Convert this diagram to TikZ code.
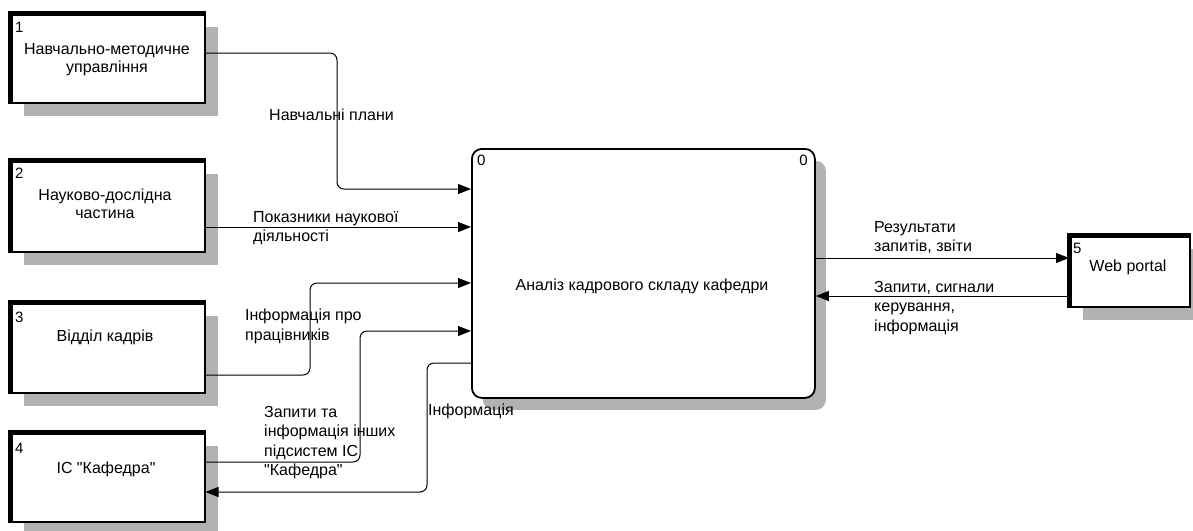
\documentclass[tikz,border=0pt]{standalone}
\usepackage{fontspec}
\setmainfont{Liberation Sans}[Ligatures=TeXOff]
\usetikzlibrary{shadows,arrows.meta}
\begin{document}
\begin{tikzpicture}[x=1pt,y=-1pt,
  ext/.style={draw, line width=1.5pt, fill=white, inner sep=0pt, anchor=north west,
    drop shadow={shadow xshift=13pt, shadow yshift=-13pt, fill=black!30, opacity=1}},
  proc/.style={draw, line width=1.8pt, fill=white, rounded corners=10pt, inner sep=0pt, anchor=north west,
    drop shadow={shadow xshift=11pt, shadow yshift=-12pt, fill=black!30, opacity=1}},
  thickedge/.style={line width=5pt},
  flow/.style={line width=1pt, rounded corners=7pt, -{Triangle[length=13pt,width=10pt]}},
  txt/.style={inner sep=0pt, align=center, anchor=north, font=\fontsize{16}{18}\selectfont},
  lbl/.style={inner sep=0pt, align=left, anchor=north west, font=\fontsize{16}{19.5}\selectfont},
  num/.style={inner sep=0pt, anchor=north west, font=\fontsize{15}{17}\selectfont}]
\useasboundingbox (0,0) rectangle (1193,530);
% boxes
\node[ext, minimum width=194pt, minimum height=89pt] (b1) at (10,13) {};
\node[ext, minimum width=194pt, minimum height=91pt] (b2) at (10,160) {};
\node[ext, minimum width=194pt, minimum height=90pt] (b3) at (10,302) {};
\node[ext, minimum width=194pt, minimum height=89pt] (b4) at (10,432) {};
\node[ext, minimum width=120pt, minimum height=71pt] (b5) at (1069,235) {};
\node[proc, minimum width=343pt, minimum height=249pt] (c) at (471,148) {};
\foreach \b in {b1,b2,b3,b4,b5}
  \draw[thickedge] (\b.south west) -- (\b.north west) -- (\b.north east);
% box texts
\node[txt] (t1) at (107,43) {Навчально-методичне\\управління};
\node[txt] (t2) at (105,189) {Науково-дослідна\\частина};
\node[txt] (t3) at (105,330) {Відділ кадрів};
\node[txt] (t4) at (106,462) {ІС "Кафедра"};
\node[txt] (t5) at (1128,260) {Web portal};
\node[txt, anchor=base] (tc) at (642,290) {Аналіз кадрового складу кафедри};
% numbers
\node[num] (n1) at (15,22) {1};
\node[num] (n2) at (15,168) {2};
\node[num] (n3) at (15,312) {3};
\node[num] (n4) at (15,443) {4};
\node[num] (n5) at (1073,243) {5};
\node[num] (n0a) at (477,155) {0};
\node[num, anchor=north east] (n0b) at (808,155) {0};
% flows
\draw[flow] (b1.east |- 0,53) -- (337,53) -- (337,189) -- (c.west |- 0,189);
\draw[flow] (b2.east |- 0,227) -- (c.west |- 0,227);
\draw[flow] (b3.east |- 0,375) -- (310,375) -- (310,283) -- (c.west |- 0,283);
\draw[flow] (b4.east |- 0,462) -- (360,462) -- (360,331) -- (c.west |- 0,331);
\draw[flow] (c.west |- 0,363) -- (427,363) -- (427,492) -- (b4.east |- 0,492);
\draw[flow] (c.east |- 0,258) -- (b5.west |- 0,258);
\draw[flow] (b5.west |- 0,296) -- (c.east |- 0,296);
% labels
\node[lbl] (l1) at (269,109) {Навчальні плани};
\node[lbl] (l2) at (253,211) {Показники наукової\\діяльності};
\node[lbl] (l3) at (245,309) {Інформація про\\працівників};
\node[lbl] (l4) at (264,406) {Запити та\\інформація інших\\підсистем ІС\\"Кафедра"};
\node[lbl] (l5) at (428,404) {Інформація};
\node[lbl] (l6) at (874,221) {Результати\\запитів, звіти};
\node[lbl] (l7) at (874,281) {Запити, сигнали\\керування,\\інформація};
\end{tikzpicture}
\end{document}
